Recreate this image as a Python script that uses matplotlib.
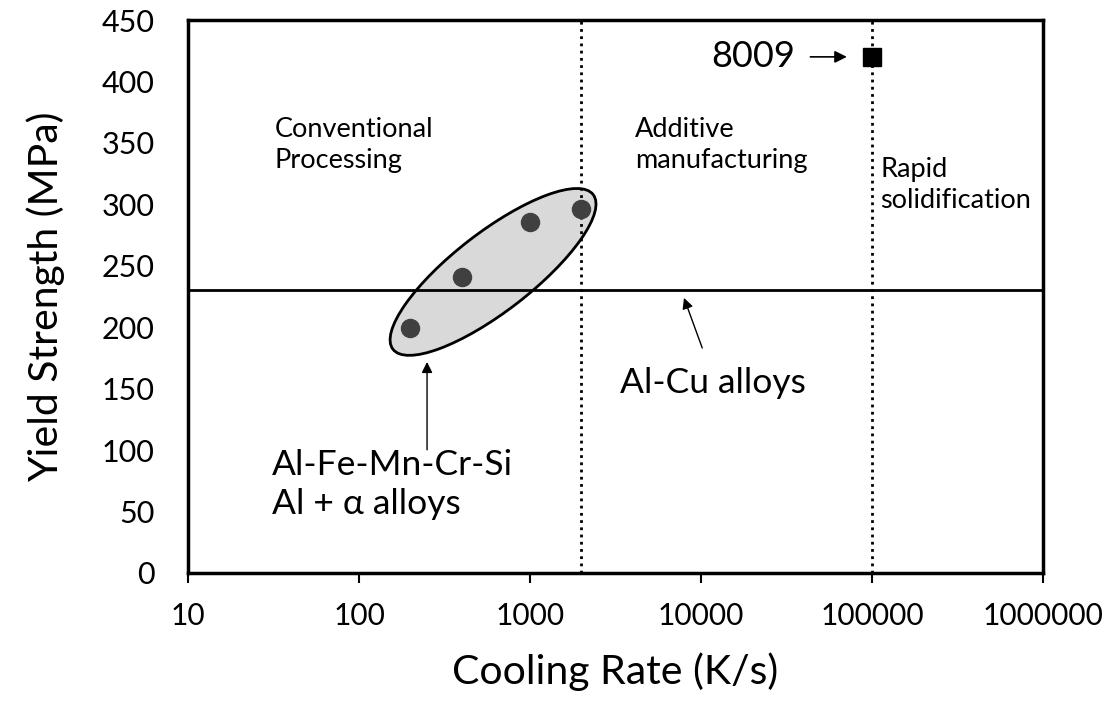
import matplotlib.pyplot as plt
import matplotlib.transforms as mtransforms
from matplotlib.patches import Ellipse
import numpy as np

plt.rcParams['font.family'] = ['Lato', 'DejaVu Sans']

# Al-Fe-Mn-Cr-Si / Al + alpha alloys
alpha_rate = [200, 400, 1000, 2000]
alpha_ys = [199, 241, 286, 296]

# 8009 alloy
rate_8009 = [100000]
ys_8009 = [420]

# Al-Cu alloys level and processing boundaries
al_cu_ys = 230
boundaries = [2000, 100000]

x_ticks = [10, 100, 1000, 10000, 100000, 1000000]
y_ticks = list(range(0, 451, 50))

fig = plt.figure(figsize=(11.08, 7.04), dpi=100)
ax = fig.add_axes([188 / 1108, 1 - 573 / 704, (1043 - 188) / 1108, (573 - 20) / 704])

ax.set_xscale('log')
ax.set_xlim(10, 1000000)
ax.set_ylim(0, 450)

# ellipse around the alpha alloys, sized in inches about a data-space centre
ell_tr = fig.dpi_scale_trans + mtransforms.ScaledTranslation(608, 245, ax.transData)
ax.add_patch(Ellipse((0, 0), 2.53, 0.79, angle=37.7, transform=ell_tr,
                     facecolor='#d9d9d9', edgecolor='black', lw=2, zorder=1))

ax.axhline(al_cu_ys, color='black', lw=2, zorder=2)
for b in boundaries:
    ax.axvline(b, color='black', lw=2, ls=(0, (1, 1.6)), zorder=2)

ax.plot(alpha_rate, alpha_ys, 'o', color='#404040', ms=13, zorder=3)
ax.plot(rate_8009, ys_8009, 's', color='black', ms=13, zorder=3)

ax.set_xticks(x_ticks)
ax.set_xticklabels([str(t) for t in x_ticks])
ax.minorticks_off()
ax.set_yticks(y_ticks)
ax.tick_params(axis='x', labelsize=21.5, length=7, width=1.5, pad=14)
ax.tick_params(axis='y', labelsize=22, length=0, pad=24)
for s in ax.spines.values():
    s.set_linewidth(2.5)

ax.set_xlabel('Cooling Rate (K/s)', fontsize=29.5, labelpad=16)
ax.set_ylabel('Yield Strength (MPa)', fontsize=29.5, labelpad=26)

# region labels
ax.text(32, 348, 'Conventional\nProcessing', fontsize=19.5, va='center', linespacing=1.3)
ax.text(4100, 348, 'Additive\nmanufacturing', fontsize=19.5, va='center', linespacing=1.3)
ax.text(112000, 316, 'Rapid\nsolidification', fontsize=19.5, va='center', linespacing=1.3)

# alloy labels with arrows
ax.text(35500, 420, '8009', fontsize=26, ha='right', va='center')
ax.annotate('', xy=(74000, 420), xytext=(42000, 420),
            arrowprops=dict(arrowstyle='-|>', color='black', lw=1.2, mutation_scale=18))
ax.text(3350, 155, 'Al-Cu alloys', fontsize=25.5, va='center')
ax.annotate('', xy=(7850, 226), xytext=(10300, 181),
            arrowprops=dict(arrowstyle='-|>', color='black', lw=1, mutation_scale=16))
ax.text(31, 72, 'Al-Fe-Mn-Cr-Si\nAl + \u03b1 alloys', fontsize=25.5, va='center', linespacing=1.3)
ax.annotate('', xy=(250, 174), xytext=(250, 98),
            arrowprops=dict(arrowstyle='-|>', color='black', lw=1, mutation_scale=16))

fig.savefig('out.png', dpi=100)
